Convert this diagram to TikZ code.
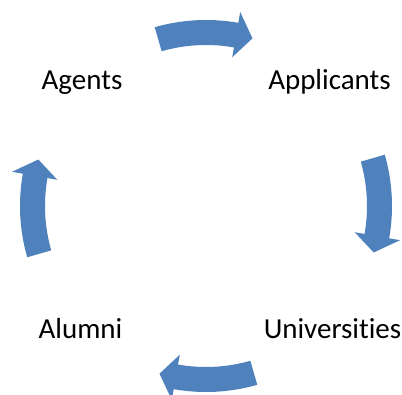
\documentclass[tikz,border=0pt]{standalone}
\usepackage{fontspec}
\setmainfont[Ligatures=NoCommon]{Carlito}
\usepackage{tikz}
\definecolor{cycleblue}{RGB}{79,129,189}

\begin{document}
\begin{tikzpicture}[
        x=1pt, y=1pt,
        every node/.style={anchor=base, font=\fontsize{29}{35}\selectfont},
        cyclearrow/.style={fill=cycleblue}
    ]
        \useasboundingbox (0,0) rectangle (402,394);
        \coordinate (hub) at (206,188);
        \node (agents) at (82,304) {Agents};
        \node (applicants) at (329.5,304) {Applicants};
        \node (universities) at (332.5,55) {Universities};
        \node (alumni) at (80.5,55) {Alumni};
        % one block arrow per quarter, turned round the hub
        \foreach \turn in {0,-90,-180,-270}
            \fill[cyclearrow, shift={(hub)}, rotate=\turn]
                (106:186) arc[start angle=106, end angle=80, radius=186]
                -- (80:197) -- (74.5:174) -- (80:151) -- (80:161)
                arc[start angle=80, end angle=106, radius=161] -- cycle;
    \end{tikzpicture}
\end{document}
